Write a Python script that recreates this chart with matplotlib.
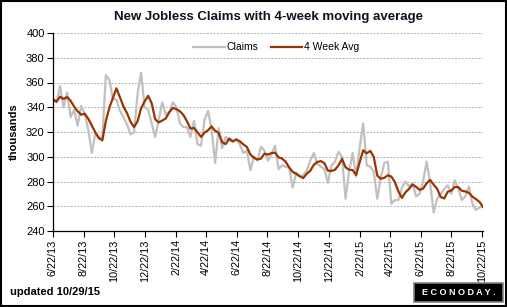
"""
New jobless claims with 4-week moving average (weekly, 6/22/13 - 10/24/15).
"""

import pandas as pd
import matplotlib
matplotlib.use("Agg")
import matplotlib.pyplot as plt
from matplotlib.patches import Rectangle

plt.rcParams["font.family"] = ["Liberation Sans", "DejaVu Sans"]

FIRST_WEEK = "2013-06-22"

# weekly initial claims, thousands
claims = [
    346, 344, 357, 340, 352, 332, 338, 325, 341, 335, 322, 303, 319, 316, 315,
    366, 362, 347, 346, 337, 332, 326, 318, 320, 351, 368, 340, 338, 327, 316,
    330, 344, 334, 336, 344, 340, 327, 324, 324, 316, 329, 310, 309, 330, 337,
    322, 295, 323, 307, 316, 313, 313, 314, 310, 303, 305, 289, 300, 297, 308,
    305, 297, 302, 309, 290, 293, 292, 291, 275, 287, 284, 285, 289, 297, 303,
    294, 292, 290, 279, 293, 296, 304, 300, 266, 288, 303, 284, 307, 327, 293,
    292, 288, 266, 283, 295, 296, 262, 265, 265, 275, 280, 276, 279, 268, 270,
    280, 296, 279, 255, 266, 270, 274, 277, 270, 281, 274, 265, 268, 276, 262,
    257, 259, 260,
]

# 4-week moving average, thousands
avg_4wk = [
    346.5, 344.5, 348.5, 346.75, 348.25, 345.25, 340.5, 336.75, 334, 334.75,
    330.75, 325.25, 319.75, 315, 313.25, 329, 339.75, 347.5, 355.25, 348,
    340.5, 335.25, 328.25, 324, 328.75, 339.25, 344.75, 349.25, 343.25, 330.25,
    327.75, 329.25, 331, 336, 339.5, 338.5, 336.75, 333.75, 328.75, 322.75,
    323.25, 319.75, 316, 319.5, 321.5, 324.5, 321, 319.25, 311.75, 310.25,
    314.75, 312.25, 314, 312.5, 310, 308, 301.75, 299.25, 297.75, 298.5,
    302.5, 301.75, 303, 303.25, 299.5, 298.5, 296, 291.5, 287.75, 286.25,
    284.25, 282.75, 286.25, 288.75, 293.5, 295.75, 296.5, 294.75, 288.75, 288.5,
    289.5, 293, 298.25, 291.5, 289.5, 289.25, 285.25, 295.5, 305.25, 302.75,
    304.75, 300, 284.75, 282.25, 283, 285, 284, 279.5, 272, 266.75,
    271.25, 274, 277.5, 275.75, 273.25, 274.25, 278.5, 281.25, 277.5, 274,
    267.5, 266.25, 271.75, 272.75, 275.5, 275.5, 272.5, 272, 270.75, 267.75,
    265.75, 263.5, 259.5,
]

tick_dates = [
    "2013-06-22", "2013-08-22", "2013-10-22", "2013-12-22", "2014-02-22",
    "2014-04-22", "2014-06-22", "2014-08-22", "2014-10-22", "2014-12-22",
    "2015-02-22", "2015-04-22", "2015-06-22", "2015-08-22", "2015-10-22",
]
tick_labels = [
    "6/22/13", "8/22/13", "10/22/13", "12/22/13", "2/22/14", "4/22/14",
    "6/22/14", "8/22/14", "10/22/14", "12/22/14", "2/22/15", "4/22/15",
    "6/22/15", "8/22/15", "10/22/15",
]
y_ticks = [240, 260, 280, 300, 320, 340, 360, 380, 400]

weeks = pd.date_range(FIRST_WEEK, periods=len(claims), freq="7D")

fig = plt.figure(figsize=(5.07, 3.07), dpi=100)
ax = fig.add_axes([53 / 507, 1 - 231 / 307, 430 / 507, 198 / 307])

ax.plot(weeks, claims, color="#c0c0c0", linewidth=1.6, label="Claims")
ax.plot(weeks, avg_4wk, color="#993300", linewidth=1.6, label="4 Week Avg")

ax.set_ylim(240, 400)
ax.set_xlim(weeks[0], weeks[-1])
ax.set_yticks(y_ticks)
ax.set_yticklabels([str(v) for v in y_ticks], fontsize=8)
ax.set_xticks(pd.to_datetime(tick_dates))
ax.set_xticklabels(tick_labels, rotation=90, fontsize=7.8)
ax.tick_params(axis="both", direction="out", length=4, width=0.8, pad=2)

ax.grid(axis="y", color="#b0b0b0", linestyle=(0, (2, 1.5)), linewidth=0.7)
ax.set_axisbelow(True)
for side in ("top", "right"):
    ax.spines[side].set_visible(False)
ax.spines["left"].set_linewidth(0.9)
ax.spines["bottom"].set_linewidth(0.9)

ax.set_ylabel("thousands", fontsize=8, fontweight="bold")
ax.yaxis.set_label_coords(-0.08, 0.5)

ax.legend(loc="upper center", bbox_to_anchor=(0.52, 1.0), ncol=2, frameon=False,
          fontsize=7.5, handlelength=3.0, columnspacing=1.2, handletextpad=0.2)

fig.text(268 / 507, 1 - 17 / 307, "New Jobless Claims with 4-week moving average",
         ha="center", va="center", fontsize=9.5, fontweight="bold", color="#111122")
fig.text(10 / 507, 1 - 292 / 307, "updated 10/29/15", ha="left", va="center",
         fontsize=8, fontweight="bold")

# Econoday badge
fig.patches.append(Rectangle((414 / 507, 1 - 302 / 307), 89 / 507, 19 / 307,
                             transform=fig.transFigure, facecolor="black",
                             edgecolor="#808080", linewidth=1.2))
fig.text(458.5 / 507, 1 - 292.5 / 307, "E C O N O D A Y .", ha="center", va="center",
         fontsize=6.5, fontweight="bold", color="white")

# outer frame
fig.patches.append(Rectangle((0.001, 0.002), 0.997, 0.996, transform=fig.transFigure,
                             facecolor="none", edgecolor="black", linewidth=1.5))

fig.savefig("out.png", dpi=100)
